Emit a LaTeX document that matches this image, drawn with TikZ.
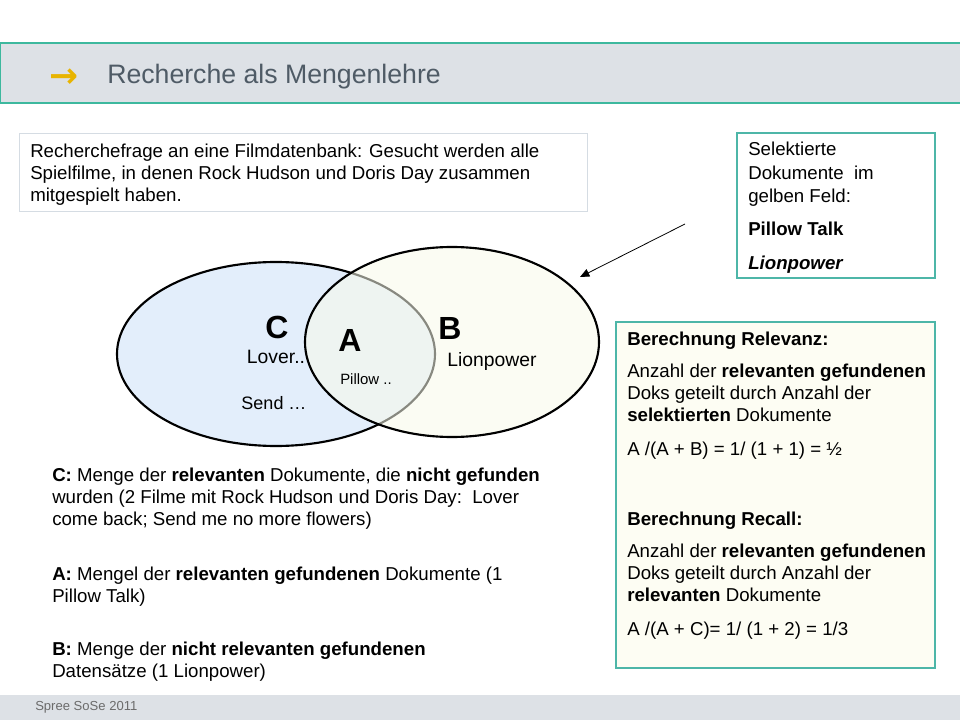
\documentclass[tikz,border=0pt]{standalone}
\usepackage{fontspec}
\setmainfont{Liberation Sans}
\newfontfamily\djv{DejaVu Sans}
\usetikzlibrary{arrows.meta}
\definecolor{band}{HTML}{DDE1E6}
\definecolor{teal}{HTML}{3DB89E}
\definecolor{tealbox}{HTML}{4DB6A8}
\definecolor{greyline}{HTML}{D5DCE3}
\definecolor{titlegrey}{HTML}{4F5B66}
\definecolor{gold}{HTML}{E8B400}
\definecolor{blueset}{HTML}{E3EEFB}
\definecolor{yellowset}{HTML}{F8FAEA}
\definecolor{ivory}{HTML}{FDFDF3}
\definecolor{foot}{HTML}{6B6B6B}
\tikzset{
  body/.style={anchor=north west, inner sep=0pt, align=left, font=\fontsize{14}{16.5}\selectfont, text=black},
  setlabel/.style={font=\fontsize{24}{26}\selectfont\bfseries},
}
\begin{document}
\begin{tikzpicture}[x=0.75pt,y=-0.75pt]
\useasboundingbox (0,0) rectangle (960,720);
\fill[white] (0,0) rectangle (960,720);
% header band
\fill[band] (0,43) rectangle (960,103);
\draw[teal,line width=0.9pt] (962,43) -- (0,43) -- (0,103) -- (962,103);
\node[text=gold, font=\djv\bfseries\fontsize{26}{26}\selectfont, inner sep=0pt] (arr) at (64,78) {→};
\node[anchor=west, text=titlegrey, font=\fontsize{20}{22}\selectfont, inner sep=0pt] (title) at (107,77) {Recherche als Mengenlehre};
% footer band
\fill[band] (0,695) rectangle (960,720);
\node[anchor=west, text=foot, font=\fontsize{9.8}{11}\selectfont, inner sep=0pt] (footer) at (35,707) {Spree SoSe 2011};
% question box
\draw[greyline, fill=white, line width=0.7pt] (19,133) rectangle (587,211);
\node[body] (q) at (30,144) {Recherchefrage an eine Filmdatenbank: Gesucht werden alle\\Spielfilme, in denen Rock Hudson und Doris Day zusammen\\mitgespielt haben.};
% selected box
\draw[tealbox, fill=white, line width=0.8pt] (737,133) rectangle (935,278);
\node[body, font=\fontsize{14}{17.6}\selectfont] (sel1) at (748,142) {Selektierte\\Dokumente\ \ im\\gelben Feld:};
\node[body] (sel2) at (748,222) {\bfseries Pillow Talk};
\node[body] (sel3) at (748,256) {\bfseries\itshape Lionpower};
% ellipses
\fill[blueset] (276,354) ellipse [x radius=159, y radius=92];
\draw[black, line width=1.6pt] (276,354) ellipse [x radius=159, y radius=92];
\fill[yellowset, fill opacity=0.55] (452,342) ellipse [x radius=147, y radius=95];
\draw[black, line width=1.6pt] (452,342) ellipse [x radius=147, y radius=95];
\node[setlabel] (C) at (277,327) {C};
\node[setlabel] (A) at (350,340) {A};
\node[setlabel] (B) at (450,328) {B};
\node[font=\fontsize{14.5}{16}\selectfont] (lover) at (276,357) {Lover..};
\node[font=\fontsize{11.2}{13}\selectfont] (pillow) at (366,379) {Pillow ..};
\node[font=\fontsize{13.5}{16}\selectfont] (send) at (274,403) {Send …};
\node[font=\fontsize{14.5}{16}\selectfont] (lion) at (492,362) {Lionpower};
% arrow
\coordinate (astart) at (685,224);
\coordinate (aend) at (580,277);
\draw[black, line width=0.6pt, -{Triangle[length=7pt,width=6pt]}] (astart) -- (aend);
% right box
\draw[tealbox, fill=ivory, line width=0.8pt] (616,322) rectangle (935,668);
\node[body] (r1) at (627,332) {\bfseries Berechnung Relevanz:};
\node[body] (r2) at (627,364) {Anzahl der \textbf{relevanten gefundenen}\\Doks geteilt durch Anzahl der\\\textbf{selektierten} Dokumente};
\node[body] (r3) at (627,442) {A /(A + B) = 1/ (1 + 1) = ½};
\node[body] (r4) at (627,512) {\bfseries Berechnung Recall:};
\node[body] (r5) at (627,544) {Anzahl der \textbf{relevanten gefundenen}\\Doks geteilt durch Anzahl der\\\textbf{relevanten} Dokumente};
\node[body] (r6) at (627,622) {A /(A + C)= 1/ (1 + 2) = 1/3};
% bottom texts
\node[body] (tc) at (52,468) {\textbf{C:} Menge der \textbf{relevanten} Dokumente, die \textbf{nicht gefunden}\\wurden (2 Filme mit Rock Hudson und Doris Day:\ \ Lover\\come back; Send me no more flowers)};
\node[body] (ta) at (52,567) {\textbf{A:} Mengel der \textbf{relevanten gefundenen} Dokumente (1\\Pillow Talk)};
\node[body] (tb) at (52,642) {\textbf{B:} Menge der \textbf{nicht relevanten gefundenen}\\Datensätze (1 Lionpower)};
\end{tikzpicture}
\end{document}
